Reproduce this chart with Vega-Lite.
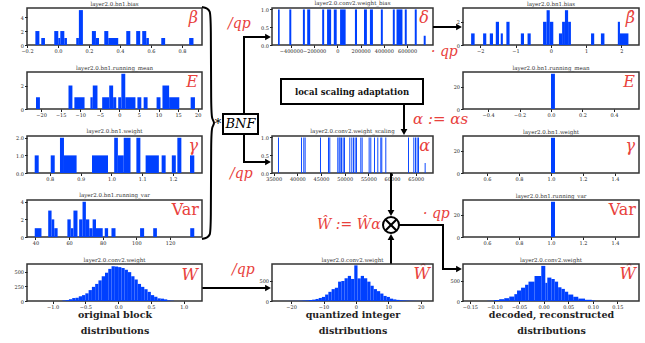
{
"$schema":"https://vega.github.io/schema/vega-lite/v6.json",
"padding":{"left":13,"top":0,"right":0,"bottom":0},
"bounds":"flush","align":"each","columns":5,"spacing":{"row":27,"column":0},
"config":{
 "view":{"stroke":"#333","strokeWidth":1.5},
 "font":"DejaVu Serif",
 "axis":{"grid":false,"domain":false,"labelFont":"DejaVu Serif","labelFontSize":5,"labelColor":"#222","tickSize":2.5,"tickColor":"#222","labelPadding":1,"titleFont":"DejaVu Serif","labelOverlap":false,"labelFlush":false},
 "title":{"font":"DejaVu Serif","fontSize":5.5,"fontWeight":"normal","color":"#333","offset":1}
},
"datasets":{
 "L1":[{"x0":-0.146,"x1":-0.12,"n":2},{"x0":-0.108,"x1":-0.084,"n":1},{"x0":-0.024,"x1":0.002,"n":2},{"x0":0.002,"x1":0.015,"n":1},{"x0":0.015,"x1":0.041,"n":2},{"x0":0.041,"x1":0.058,"n":1},{"x0":0.118,"x1":0.135,"n":1},{"x0":0.135,"x1":0.161,"n":5},{"x0":0.219,"x1":0.245,"n":2},{"x0":0.245,"x1":0.265,"n":1},{"x0":0.299,"x1":0.325,"n":2},{"x0":0.325,"x1":0.389,"n":1},{"x0":0.441,"x1":0.467,"n":2},{"x0":0.505,"x1":0.531,"n":2},{"x0":0.544,"x1":0.57,"n":2},{"x0":0.57,"x1":0.587,"n":1},{"x0":0.667,"x1":0.692,"n":1},{"x0":0.847,"x1":0.875,"n":1}],
 "L2":[{"x0":-21.3,"x1":-20.3,"n":1},{"x0":-13.0,"x1":-12.0,"n":2},{"x0":-11.5,"x1":-8.9,"n":1},{"x0":-7.4,"x1":-6.8,"n":1},{"x0":-6.8,"x1":-5.6,"n":2},{"x0":-4.4,"x1":-2.6,"n":1},{"x0":-2.6,"x1":-1.6,"n":2},{"x0":-1.6,"x1":-0.8,"n":1},{"x0":-0.3,"x1":0.5,"n":1},{"x0":0.5,"x1":1.5,"n":3},{"x0":1.5,"x1":4.1,"n":1},{"x0":4.6,"x1":5.6,"n":1},{"x0":6.2,"x1":7.2,"n":1},{"x0":9.5,"x1":10.5,"n":1},{"x0":11.0,"x1":12.7,"n":2},{"x0":12.7,"x1":15.3,"n":1},{"x0":18.2,"x1":19.3,"n":1}],
 "L3":[{"x0":0.751,"x1":0.764,"n":1},{"x0":0.803,"x1":0.816,"n":1},{"x0":0.833,"x1":0.846,"n":2},{"x0":0.846,"x1":0.887,"n":1},{"x0":0.937,"x1":0.989,"n":1},{"x0":1.009,"x1":1.021,"n":2},{"x0":1.021,"x1":1.04,"n":1},{"x0":1.04,"x1":1.062,"n":2},{"x0":1.081,"x1":1.094,"n":2},{"x0":1.111,"x1":1.154,"n":1},{"x0":1.163,"x1":1.176,"n":1},{"x0":1.196,"x1":1.209,"n":1},{"x0":1.214,"x1":1.227,"n":2},{"x0":1.255,"x1":1.269,"n":1}],
 "L4":[{"x0":39.6,"x1":43.6,"n":1},{"x0":47.6,"x1":49.6,"n":3},{"x0":49.6,"x1":51.2,"n":2},{"x0":51.2,"x1":53.2,"n":1},{"x0":59,"x1":61,"n":2},{"x0":61,"x1":62.6,"n":1},{"x0":62.6,"x1":65,"n":3},{"x0":66,"x1":68,"n":2},{"x0":68,"x1":70,"n":4},{"x0":70,"x1":72,"n":2},{"x0":72,"x1":74,"n":1},{"x0":74,"x1":76,"n":2},{"x0":76,"x1":80,"n":1},{"x0":81.2,"x1":83.2,"n":1},{"x0":85.2,"x1":87.6,"n":1},{"x0":102.2,"x1":104.6,"n":1},{"x0":110,"x1":112.2,"n":1},{"x0":132,"x1":134.4,"n":1}],
 "L5":[{"x0":-0.85,"x1":-0.8,"n":8},{"x0":-0.8,"x1":-0.75,"n":15},{"x0":-0.75,"x1":-0.7,"n":30},{"x0":-0.7,"x1":-0.65,"n":50},{"x0":-0.65,"x1":-0.6,"n":55},{"x0":-0.6,"x1":-0.55,"n":80},{"x0":-0.55,"x1":-0.5,"n":100},{"x0":-0.5,"x1":-0.45,"n":130},{"x0":-0.45,"x1":-0.4,"n":185},{"x0":-0.4,"x1":-0.35,"n":240},{"x0":-0.35,"x1":-0.3,"n":290},{"x0":-0.3,"x1":-0.25,"n":350},{"x0":-0.25,"x1":-0.2,"n":420},{"x0":-0.2,"x1":-0.15,"n":480},{"x0":-0.15,"x1":-0.1,"n":545},{"x0":-0.1,"x1":-0.05,"n":590},{"x0":-0.05,"x1":0.0,"n":585},{"x0":0.0,"x1":0.05,"n":575},{"x0":0.05,"x1":0.1,"n":560},{"x0":0.1,"x1":0.15,"n":530},{"x0":0.15,"x1":0.2,"n":490},{"x0":0.2,"x1":0.25,"n":420},{"x0":0.25,"x1":0.3,"n":365},{"x0":0.3,"x1":0.35,"n":290},{"x0":0.35,"x1":0.4,"n":240},{"x0":0.4,"x1":0.45,"n":200},{"x0":0.45,"x1":0.5,"n":155},{"x0":0.5,"x1":0.55,"n":100},{"x0":0.55,"x1":0.6,"n":72},{"x0":0.6,"x1":0.65,"n":45},{"x0":0.65,"x1":0.7,"n":40},{"x0":0.7,"x1":0.75,"n":28},{"x0":0.75,"x1":0.8,"n":10},{"x0":0.8,"x1":0.85,"n":5}],
 "M1":[{"x0":-511000,"x1":-497000,"n":1},{"x0":-414000,"x1":-397000,"n":1},{"x0":-297000,"x1":-280000,"n":1},{"x0":-260000,"x1":-234000,"n":1},{"x0":-131000,"x1":-114000,"n":1},{"x0":-89000,"x1":-54000,"n":1},{"x0":-31000,"x1":-6000,"n":1},{"x0":23000,"x1":71000,"n":1},{"x0":151000,"x1":169000,"n":1},{"x0":229000,"x1":254000,"n":1},{"x0":280000,"x1":306000,"n":1},{"x0":374000,"x1":391000,"n":1},{"x0":477000,"x1":494000,"n":1},{"x0":509000,"x1":560000,"n":1},{"x0":580000,"x1":597000,"n":1},{"x0":666000,"x1":683000,"n":1},{"x0":743000,"x1":760000,"n":0.26}],
 "M2":[{"x0":35915,"x1":36115,"n":1},{"x0":40773,"x1":40973,"n":1},{"x0":41266,"x1":41466,"n":1},{"x0":41547,"x1":41747,"n":1},{"x0":44786,"x1":44986,"n":1},{"x0":46475,"x1":46675,"n":1},{"x0":46757,"x1":46957,"n":1},{"x0":48446,"x1":48646,"n":1},{"x0":48728,"x1":48928,"n":1},{"x0":48939,"x1":49139,"n":1},{"x0":49221,"x1":49421,"n":1},{"x0":49573,"x1":49773,"n":1},{"x0":49854,"x1":50054,"n":1},{"x0":50981,"x1":51181,"n":1},{"x0":51403,"x1":51603,"n":1},{"x0":51755,"x1":51955,"n":1},{"x0":52107,"x1":52307,"n":1},{"x0":52389,"x1":52589,"n":1},{"x0":53304,"x1":53504,"n":1},{"x0":53586,"x1":53786,"n":1},{"x0":55064,"x1":55264,"n":1},{"x0":55416,"x1":55616,"n":1},{"x0":56190,"x1":56390,"n":1},{"x0":56894,"x1":57094,"n":1},{"x0":57528,"x1":57728,"n":1},{"x0":57739,"x1":57939,"n":1},{"x0":58584,"x1":58784,"n":1},{"x0":63371,"x1":63571,"n":1},{"x0":64498,"x1":64698,"n":1},{"x0":64850,"x1":65050,"n":1},{"x0":65202,"x1":65402,"n":1},{"x0":65483,"x1":65683,"n":1},{"x0":66891,"x1":67091,"n":0.28}],
 "M3":[{"x0":-23.5,"x1":-22.5,"n":1},{"x0":-22.5,"x1":-21.5,"n":1},{"x0":-21.5,"x1":-20.5,"n":2},{"x0":-20.5,"x1":-19.5,"n":3},{"x0":-19.5,"x1":-18.5,"n":4},{"x0":-18.5,"x1":-17.5,"n":5},{"x0":-17.5,"x1":-16.5,"n":8},{"x0":-16.5,"x1":-15.5,"n":12},{"x0":-15.5,"x1":-14.5,"n":17},{"x0":-14.5,"x1":-13.5,"n":25},{"x0":-13.5,"x1":-12.5,"n":34},{"x0":-12.5,"x1":-11.5,"n":51},{"x0":-11.5,"x1":-10.5,"n":76},{"x0":-10.5,"x1":-9.5,"n":102},{"x0":-9.5,"x1":-8.5,"n":161},{"x0":-8.5,"x1":-7.5,"n":229},{"x0":-7.5,"x1":-6.5,"n":297},{"x0":-6.5,"x1":-5.5,"n":330},{"x0":-5.5,"x1":-4.5,"n":483},{"x0":-4.5,"x1":-3.5,"n":500},{"x0":-3.5,"x1":-2.5,"n":568},{"x0":-2.5,"x1":-1.5,"n":627},{"x0":-1.5,"x1":-0.5,"n":551},{"x0":-0.5,"x1":0.5,"n":890},{"x0":0.5,"x1":1.5,"n":565},{"x0":1.5,"x1":2.5,"n":627},{"x0":2.5,"x1":3.5,"n":568},{"x0":3.5,"x1":4.5,"n":483},{"x0":4.5,"x1":5.5,"n":381},{"x0":5.5,"x1":6.5,"n":297},{"x0":6.5,"x1":7.5,"n":246},{"x0":7.5,"x1":8.5,"n":186},{"x0":8.5,"x1":9.5,"n":127},{"x0":9.5,"x1":10.5,"n":102},{"x0":10.5,"x1":11.5,"n":59},{"x0":11.5,"x1":12.5,"n":40},{"x0":12.5,"x1":13.5,"n":28},{"x0":13.5,"x1":14.5,"n":20},{"x0":14.5,"x1":15.5,"n":14},{"x0":15.5,"x1":16.5,"n":10},{"x0":16.5,"x1":17.5,"n":7},{"x0":17.5,"x1":18.5,"n":5},{"x0":18.5,"x1":19.5,"n":3},{"x0":19.5,"x1":20.5,"n":2},{"x0":20.5,"x1":21.5,"n":1},{"x0":21.5,"x1":22.5,"n":1}],
 "R1":[{"x0":-2.26,"x1":-2.16,"n":1},{"x0":-1.92,"x1":-1.83,"n":1},{"x0":-1.73,"x1":-1.64,"n":1},{"x0":-1.56,"x1":-1.47,"n":2},{"x0":-1.42,"x1":-1.36,"n":1},{"x0":-1.26,"x1":-1.17,"n":2},{"x0":-0.85,"x1":-0.76,"n":1},{"x0":-0.66,"x1":-0.57,"n":1},{"x0":-0.22,"x1":-0.12,"n":2},{"x0":-0.12,"x1":-0.03,"n":3},{"x0":-0.03,"x1":0.07,"n":2},{"x0":0.23,"x1":0.32,"n":1},{"x0":0.32,"x1":0.4,"n":2},{"x0":0.4,"x1":0.49,"n":3},{"x0":0.49,"x1":0.57,"n":2},{"x0":1.14,"x1":1.23,"n":1},{"x0":1.42,"x1":1.52,"n":1},{"x0":1.9,"x1":1.96,"n":2},{"x0":1.96,"x1":2.2,"n":1}],
 "R2":[{"x0":0.0,"x1":0.025,"n":32}],
 "R3":[{"x0":1.0,"x1":1.025,"n":32}],
 "R4":[{"x0":1.0,"x1":1.025,"n":32}],
 "R5":[{"x0":-0.1144,"x1":-0.1007,"n":5},{"x0":-0.1007,"x1":-0.0904,"n":25},{"x0":-0.0904,"x1":-0.0801,"n":45},{"x0":-0.0801,"x1":-0.0699,"n":70},{"x0":-0.0699,"x1":-0.0596,"n":110},{"x0":-0.0596,"x1":-0.0541,"n":170},{"x0":-0.0541,"x1":-0.0459,"n":260},{"x0":-0.0459,"x1":-0.0377,"n":330},{"x0":-0.0377,"x1":-0.0308,"n":400},{"x0":-0.0308,"x1":-0.0185,"n":480},{"x0":-0.0185,"x1":-0.0048,"n":620},{"x0":-0.0048,"x1":0.0034,"n":870},{"x0":0.0034,"x1":0.0075,"n":450},{"x0":0.0075,"x1":0.0158,"n":580},{"x0":0.0158,"x1":0.0226,"n":545},{"x0":0.0226,"x1":0.0295,"n":480},{"x0":0.0295,"x1":0.0363,"n":340},{"x0":0.0363,"x1":0.0432,"n":300},{"x0":0.0432,"x1":0.05,"n":230},{"x0":0.05,"x1":0.0603,"n":160},{"x0":0.0603,"x1":0.0705,"n":105},{"x0":0.0705,"x1":0.0842,"n":60},{"x0":0.0842,"x1":0.0979,"n":30},{"x0":0.0979,"x1":0.1048,"n":12}],
 "braceA":[{"i":0,"x":0,"y":-1},{"i":1,"x":5,"y":0},{"i":2,"x":8,"y":3},{"i":3,"x":9,"y":10},{"i":4,"x":9,"y":104},{"i":5,"x":10,"y":111},{"i":6,"x":13,"y":115},{"i":7,"x":10,"y":119},{"i":8,"x":9,"y":126},{"i":9,"x":9,"y":221},{"i":10,"x":8,"y":227},{"i":11,"x":5,"y":230},{"i":12,"x":0,"y":231}],
 "linesA":[{"path":"up","i":0,"x":42,"y":106},{"path":"up","i":1,"x":42,"y":29},{"path":"up","i":2,"x":65,"y":29},{"path":"down","i":0,"x":42,"y":126},{"path":"down","i":1,"x":42,"y":154},{"path":"down","i":2,"x":65,"y":154},{"path":"w","i":0,"x":0,"y":280},{"path":"w","i":1,"x":65,"y":280}],
 "boxA":[{"x":21,"y":106,"x2":56,"y2":126}],
 "arrowsA":[{"x":66,"y":29,"shape":"triangle-right"},{"x":66,"y":154,"shape":"triangle-right"},{"x":66,"y":280,"shape":"triangle-right"}],
 "redA":[{"x":26,"y":16,"t":"/qp"},{"x":28,"y":166,"t":"/qp"},{"x":30,"y":262,"t":"/qp"}],
 "blackA":[{"x":16,"y":116,"t":"*"},{"x":38.5,"y":116,"t":"BNF"}],
 "symA":[{"x":-4,"y":2,"t":"β"},{"x":-4,"y":66,"t":"E"},{"x":-4,"y":130,"t":"γ"},{"x":-4,"y":259,"t":"W"}],
 "symA2":[{"x":-3,"y":194,"t":"Var"}],
 "box1":[{"x":9,"y":34,"x2":151,"y2":59}],
 "bold1":[{"x":80,"y":46.5,"t":"local scaling adaptation"}],
 "lines1":[{"path":"a","i":0,"x":132,"y":59},{"path":"a","i":1,"x":132,"y":85}],
 "arrows1":[{"x":132,"y":87,"shape":"triangle-down"}],
 "red1":[{"x":141,"y":74,"t":"α := αs"}],
 "lines2":[{"path":"v1","i":0,"x":119,"y":0},{"path":"v1","i":1,"x":119,"y":38},{"path":"v2","i":0,"x":119,"y":91},{"path":"v2","i":1,"x":119,"y":66},{"path":"h","i":0,"x":127,"y":52},{"path":"h","i":1,"x":161,"y":52}],
 "circle2":[{"x":119,"y":52}],
 "cross2":[{"path":"c1","i":0,"x":113.5,"y":46.5},{"path":"c1","i":1,"x":124.5,"y":57.5},{"path":"c2","i":0,"x":113.5,"y":57.5},{"path":"c2","i":1,"x":124.5,"y":46.5}],
 "arrows2":[{"x":119,"y":40,"shape":"triangle-down"},{"x":119,"y":64,"shape":"triangle-up"}],
 "red2":[{"x":45,"y":52,"t":"Ŵ := Ŵα"},{"x":151,"y":41,"t":"· qp"}],
 "linesB":[{"path":"t","i":0,"x":0,"y":19},{"path":"t","i":1,"x":24,"y":19},{"path":"b","i":0,"x":0,"y":217},{"path":"b","i":1,"x":10,"y":217},{"path":"b","i":2,"x":10,"y":261},{"path":"b","i":3,"x":24,"y":261}],
 "arrowsB":[{"x":26,"y":19,"shape":"triangle-right"},{"x":26,"y":261,"shape":"triangle-right"}],
 "redB":[{"x":-2,"y":44,"t":"· qp"}],
 "symB":[{"x":-4,"y":2,"t":"δ"},{"x":-3,"y":130,"t":"α"},{"x":-3,"y":258,"t":"Ŵ"},{"x":202,"y":2,"t":"β̂"},{"x":202,"y":66,"t":"E"},{"x":202,"y":130,"t":"γ"},{"x":203,"y":258,"t":"Ŵ"}],
 "symB2":[{"x":203,"y":194,"t":"Var"}]
},
"concat":[
  {"width":175,"height":37,"title":"layer2.0.bn1.bias","data":{"name":"L1"},"mark":{"type":"rect","color":"#0040ff"},"encoding":{"x":{"field":"x0","type":"quantitative","scale":{"domain":[-0.2,0.93],"nice":false,"zero":false},"axis":{"values":[-0.2,0,0.2,0.4,0.6,0.8],"format":".1f","title":null,"labelOverlap":false}},"x2":{"field":"x1"},"y":{"field":"n","type":"quantitative","scale":{"domain":[0,5.3],"nice":false},"axis":{"values":[0,2,4],"title":null,"labelOverlap":false}},"y2":{"datum":0}}},
  {"width":70,"height":37,"view":{"stroke":null},
   "encoding":{"x":{"field":"x","type":"quantitative","scale":{"domain":[0,70],"nice":false,"zero":false},"axis":null},"y":{"field":"y","type":"quantitative","scale":{"domain":[0,37],"nice":false,"zero":false,"reverse":true},"axis":null}},
   "layer":[
    {"data":{"name":"braceA"},"mark":{"type":"line","interpolate":"basis","stroke":"black","strokeWidth":2},"encoding":{"order":{"field":"i"}}},
    {"data":{"name":"linesA"},"mark":{"type":"line","stroke":"black","strokeWidth":2},"encoding":{"detail":{"field":"path"},"order":{"field":"i"}}},
    {"data":{"name":"boxA"},"mark":{"type":"rect","fill":"white","stroke":"black","strokeWidth":2},"encoding":{"x2":{"field":"x2"},"y2":{"field":"y2"}}},
    {"data":{"name":"arrowsA"},"mark":{"type":"point","filled":true,"color":"black","size":45,"opacity":1},"encoding":{"shape":{"field":"shape","type":"nominal","scale":null}}},
    {"data":{"name":"redA"},"mark":{"type":"text","align":"left","baseline":"middle","color":"#e8413c","fontStyle":"italic","fontSize":14},"encoding":{"text":{"field":"t"}}},
    {"data":{"name":"blackA"},"mark":{"type":"text","align":"center","baseline":"middle","color":"black","fontStyle":"italic","fontSize":13},"encoding":{"text":{"field":"t"}}},
    {"data":{"name":"symA"},"mark":{"type":"text","align":"right","baseline":"top","color":"#e8413c","fontStyle":"italic","fontSize":16},"encoding":{"text":{"field":"t"}}},
    {"data":{"name":"symA2"},"mark":{"type":"text","align":"right","baseline":"top","color":"#e8413c","fontSize":16},"encoding":{"text":{"field":"t"}}}
   ]},
  {"width":161,"height":37,"title":"layer2.0.conv2.weight_bias","data":{"name":"M1"},"mark":{"type":"rect","color":"#0040ff"},"encoding":{"x":{"field":"x0","type":"quantitative","scale":{"domain":[-563000,823000],"nice":false,"zero":false},"axis":{"values":[-400000,-200000,0,200000,400000,600000],"format":"d","title":null,"labelOverlap":false}},"x2":{"field":"x1"},"y":{"field":"n","type":"quantitative","scale":{"domain":[0,1.04],"nice":false},"axis":{"values":[0,0.5,1],"format":".1f","title":null,"labelOverlap":false}},"y2":{"datum":0}}},
  {"width":30,"height":37,"view":{"stroke":null},
   "encoding":{"x":{"field":"x","type":"quantitative","scale":{"domain":[0,30],"nice":false,"zero":false},"axis":null},"y":{"field":"y","type":"quantitative","scale":{"domain":[0,37],"nice":false,"zero":false,"reverse":true},"axis":null}},
   "layer":[
    {"data":{"name":"linesB"},"mark":{"type":"line","stroke":"black","strokeWidth":2},"encoding":{"detail":{"field":"path"},"order":{"field":"i"}}},
    {"data":{"name":"arrowsB"},"mark":{"type":"point","filled":true,"color":"black","size":45,"opacity":1},"encoding":{"shape":{"field":"shape","type":"nominal","scale":null}}},
    {"data":{"name":"redB"},"mark":{"type":"text","align":"left","baseline":"middle","color":"#e8413c","fontStyle":"italic","fontSize":14},"encoding":{"text":{"field":"t"}}},
    {"data":{"name":"symB"},"mark":{"type":"text","align":"right","baseline":"top","color":"#e8413c","fontStyle":"italic","fontSize":16},"encoding":{"text":{"field":"t"}}},
    {"data":{"name":"symB2"},"mark":{"type":"text","align":"right","baseline":"top","color":"#e8413c","fontSize":16},"encoding":{"text":{"field":"t"}}}
   ]},
  {"width":176,"height":37,"title":"layer2.0.bn1.bias","data":{"name":"R1"},"mark":{"type":"rect","color":"#0040ff"},"encoding":{"x":{"field":"x0","type":"quantitative","scale":{"domain":[-2.49,2.5],"nice":false,"zero":false},"axis":{"values":[-2,-1,0,1,2],"title":null,"labelOverlap":false}},"x2":{"field":"x1"},"y":{"field":"n","type":"quantitative","scale":{"domain":[0,3.19],"nice":false},"axis":{"values":[0,2],"title":null,"labelOverlap":false}},"y2":{"datum":0}}},

  {"width":175,"height":37,"title":"layer2.0.bn1.running_mean","data":{"name":"L2"},"mark":{"type":"rect","color":"#0040ff"},"encoding":{"x":{"field":"x0","type":"quantitative","scale":{"domain":[-23.6,21.1],"nice":false,"zero":false},"axis":{"values":[-20,-15,-10,-5,0,5,10,15,20],"title":null,"labelOverlap":false}},"x2":{"field":"x1"},"y":{"field":"n","type":"quantitative","scale":{"domain":[0,3.15],"nice":false},"axis":{"values":[0,2],"title":null,"labelOverlap":false}},"y2":{"datum":0}}},
  {"width":70,"height":37,"view":{"stroke":null},"data":{"values":[]},"mark":"point"},
  {"width":161,"height":37,"view":{"stroke":null},
   "encoding":{"x":{"field":"x","type":"quantitative","scale":{"domain":[0,161],"nice":false,"zero":false},"axis":null},"y":{"field":"y","type":"quantitative","scale":{"domain":[27,64],"nice":false,"zero":false,"reverse":true},"axis":null}},
   "layer":[
    {"data":{"name":"box1"},"mark":{"type":"rect","fill":"white","stroke":"black","strokeWidth":2},"encoding":{"x2":{"field":"x2"},"y2":{"field":"y2"}}},
    {"data":{"name":"bold1"},"mark":{"type":"text","align":"center","baseline":"middle","color":"#111","fontWeight":"bold","fontSize":8.5},"encoding":{"text":{"field":"t"}}},
    {"data":{"name":"lines1"},"mark":{"type":"line","stroke":"black","strokeWidth":2},"encoding":{"detail":{"field":"path"},"order":{"field":"i"}}},
    {"data":{"name":"arrows1"},"mark":{"type":"point","filled":true,"color":"black","size":45,"opacity":1},"encoding":{"shape":{"field":"shape","type":"nominal","scale":null}}},
    {"data":{"name":"red1"},"mark":{"type":"text","align":"left","baseline":"middle","color":"#e8413c","fontStyle":"italic","fontSize":15},"encoding":{"text":{"field":"t"}}}
   ]},
  {"width":30,"height":37,"view":{"stroke":null},"data":{"values":[]},"mark":"point"},
  {"width":176,"height":37,"title":"layer2.0.bn1.running_mean","data":{"name":"R2"},"mark":{"type":"rect","color":"#0040ff"},"encoding":{"x":{"field":"x0","type":"quantitative","scale":{"domain":[-0.56,0.56],"nice":false,"zero":false},"axis":{"values":[-0.4,-0.2,0,0.2,0.4],"format":".1f","title":null,"labelOverlap":false}},"x2":{"field":"x1"},"y":{"field":"n","type":"quantitative","scale":{"domain":[0,33.6],"nice":false},"axis":{"values":[0,20],"title":null,"labelOverlap":false}},"y2":{"datum":0}}},

  {"width":175,"height":37,"title":"layer2.0.bn1.weight","data":{"name":"L3"},"mark":{"type":"rect","color":"#0040ff"},"encoding":{"x":{"field":"x0","type":"quantitative","scale":{"domain":[0.726,1.294],"nice":false,"zero":false},"axis":{"values":[0.8,0.9,1.0,1.1,1.2],"format":".1f","title":null,"labelOverlap":false}},"x2":{"field":"x1"},"y":{"field":"n","type":"quantitative","scale":{"domain":[0,2.1],"nice":false},"axis":{"values":[0,1,2],"title":null,"labelOverlap":false}},"y2":{"datum":0}}},
  {"width":70,"height":37,"view":{"stroke":null},"data":{"values":[]},"mark":"point"},
  {"width":161,"height":37,"title":"layer2.0.conv2.weight_scaling","data":{"name":"M2"},"mark":{"type":"rect","color":"#0040ff"},"encoding":{"x":{"field":"x0","type":"quantitative","scale":{"domain":[34650,68650],"nice":false,"zero":false},"axis":{"values":[35000,40000,45000,50000,55000,60000,65000],"format":"d","title":null,"labelOverlap":false}},"x2":{"field":"x1"},"y":{"field":"n","type":"quantitative","scale":{"domain":[0,1.04],"nice":false},"axis":{"values":[0,0.5,1],"format":".1f","title":null,"labelOverlap":false}},"y2":{"datum":0}}},
  {"width":30,"height":37,"view":{"stroke":null},"data":{"values":[]},"mark":"point"},
  {"width":176,"height":37,"title":"layer2.0.bn1.weight","data":{"name":"R3"},"mark":{"type":"rect","color":"#0040ff"},"encoding":{"x":{"field":"x0","type":"quantitative","scale":{"domain":[0.45,1.55],"nice":false,"zero":false},"axis":{"values":[0.6,0.8,1.0,1.2,1.4],"format":".1f","title":null,"labelOverlap":false}},"x2":{"field":"x1"},"y":{"field":"n","type":"quantitative","scale":{"domain":[0,33.6],"nice":false},"axis":{"values":[0,20],"title":null,"labelOverlap":false}},"y2":{"datum":0}}},

  {"width":175,"height":37,"title":"layer2.0.bn1.running_var","data":{"name":"L4"},"mark":{"type":"rect","color":"#0040ff"},"encoding":{"x":{"field":"x0","type":"quantitative","scale":{"domain":[35,139],"nice":false,"zero":false},"axis":{"values":[40,60,80,100,120],"title":null,"labelOverlap":false}},"x2":{"field":"x1"},"y":{"field":"n","type":"quantitative","scale":{"domain":[0,4.2],"nice":false},"axis":{"values":[0,2,4],"title":null,"labelOverlap":false}},"y2":{"datum":0}}},
  {"width":70,"height":37,"view":{"stroke":null},"data":{"values":[]},"mark":"point"},
  {"width":161,"height":37,"view":{"stroke":null},
   "encoding":{"x":{"field":"x","type":"quantitative","scale":{"domain":[0,161],"nice":false,"zero":false},"axis":null},"y":{"field":"y","type":"quantitative","scale":{"domain":[27,64],"nice":false,"zero":false,"reverse":true},"axis":null}},
   "layer":[
    {"data":{"name":"lines2"},"mark":{"type":"line","stroke":"black","strokeWidth":2},"encoding":{"detail":{"field":"path"},"order":{"field":"i"}}},
    {"data":{"name":"circle2"},"mark":{"type":"point","shape":"circle","size":256,"filled":false,"fill":"white","fillOpacity":1,"stroke":"black","strokeWidth":2,"opacity":1}},
    {"data":{"name":"cross2"},"mark":{"type":"line","stroke":"black","strokeWidth":2.2},"encoding":{"detail":{"field":"path"},"order":{"field":"i"}}},
    {"data":{"name":"arrows2"},"mark":{"type":"point","filled":true,"color":"black","size":45,"opacity":1},"encoding":{"shape":{"field":"shape","type":"nominal","scale":null}}},
    {"data":{"name":"red2"},"mark":{"type":"text","align":"left","baseline":"middle","color":"#e8413c","fontStyle":"italic","fontSize":14},"encoding":{"text":{"field":"t"}}}
   ]},
  {"width":30,"height":37,"view":{"stroke":null},"data":{"values":[]},"mark":"point"},
  {"width":176,"height":37,"title":"layer2.0.bn1.running_var","data":{"name":"R4"},"mark":{"type":"rect","color":"#0040ff"},"encoding":{"x":{"field":"x0","type":"quantitative","scale":{"domain":[0.45,1.55],"nice":false,"zero":false},"axis":{"values":[0.6,0.8,1.0,1.2,1.4],"format":".1f","title":null,"labelOverlap":false}},"x2":{"field":"x1"},"y":{"field":"n","type":"quantitative","scale":{"domain":[0,33.6],"nice":false},"axis":{"values":[0,20],"title":null,"labelOverlap":false}},"y2":{"datum":0}}},

  {"width":175,"height":37,"title":"layer2.0.conv2.weight","data":{"name":"L5"},"mark":{"type":"rect","color":"#0040ff"},"encoding":{"x":{"field":"x0","type":"quantitative","scale":{"domain":[-1.39,1.28],"nice":false,"zero":false},"axis":{"values":[-1,-0.5,0,0.5,1],"format":".1f","labelOverlap":false,"title":["original block","distributions"],"titleFontWeight":"bold","titleFontSize":9.5,"titleLineHeight":16,"titlePadding":0,"titleColor":"#222"}},"x2":{"field":"x1"},"y":{"field":"n","type":"quantitative","scale":{"domain":[0,628],"nice":false},"axis":{"values":[0,250,500],"title":null,"labelOverlap":false}},"y2":{"datum":0}}},
  {"width":70,"height":37,"view":{"stroke":null},"data":{"values":[]},"mark":"point"},
  {"width":161,"height":37,"title":"layer2.0.conv2.weight","data":{"name":"M3"},"mark":{"type":"rect","color":"#0040ff"},"encoding":{"x":{"field":"x0","type":"quantitative","scale":{"domain":[-25.9,23.8],"nice":false,"zero":false},"axis":{"values":[-20,-10,0,10,20],"labelOverlap":false,"title":["quantized integer","distributions"],"titleFontWeight":"bold","titleFontSize":9.5,"titleLineHeight":16,"titlePadding":0,"titleColor":"#222"}},"x2":{"field":"x1"},"y":{"field":"n","type":"quantitative","scale":{"domain":[0,924],"nice":false},"axis":{"values":[0,500],"title":null,"labelOverlap":false}},"y2":{"datum":0}}},
  {"width":30,"height":37,"view":{"stroke":null},"data":{"values":[]},"mark":"point"},
  {"width":176,"height":37,"title":"layer2.0.conv2.weight","data":{"name":"R5"},"mark":{"type":"rect","color":"#0040ff"},"encoding":{"x":{"field":"x0","type":"quantitative","scale":{"domain":[-0.164,0.194],"nice":false,"zero":false},"axis":{"values":[-0.15,-0.1,-0.05,0,0.05,0.1,0.15],"format":".2f","labelOverlap":false,"title":["decoded, reconstructed","distributions"],"titleFontWeight":"bold","titleFontSize":9.5,"titleLineHeight":16,"titlePadding":0,"titleColor":"#222"}},"x2":{"field":"x1"},"y":{"field":"n","type":"quantitative","scale":{"domain":[0,917],"nice":false},"axis":{"values":[0,500],"title":null,"labelOverlap":false}},"y2":{"datum":0}}}
]
}
